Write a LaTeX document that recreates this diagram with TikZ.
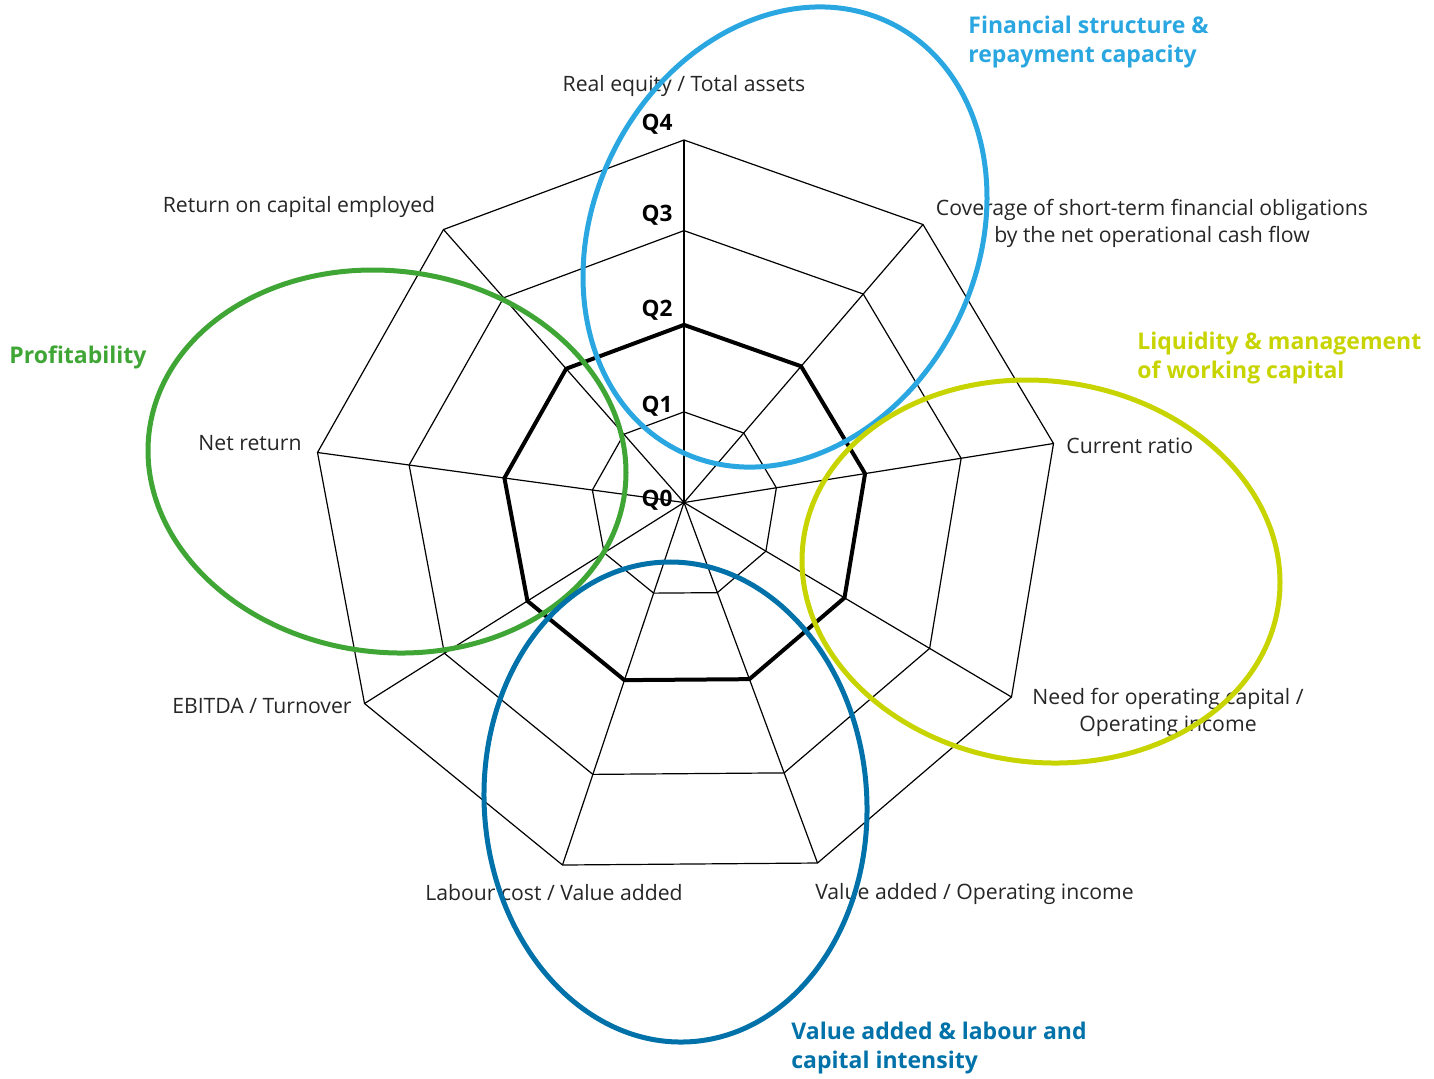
\documentclass[tikz,border=0pt]{standalone}
\usepackage{fontspec}
\setmainfont{Open Sans}
\usepackage{tikz}
\usetikzlibrary{calc}
\definecolor{finblue}{HTML}{2AA7E0}
\definecolor{profgreen}{HTML}{3FA535}
\definecolor{liqyellow}{HTML}{C8D400}
\definecolor{valblue}{HTML}{0072A9}
\definecolor{labelgray}{HTML}{262626}
\tikzset{
  gridline/.style = {draw=black, line width=0.6pt, line join=miter},
  scoreline/.style = {draw=black, line width=2pt, line join=miter},
  axislabel/.style = {font=\fontsize{10.6}{13.5}\selectfont, text=labelgray, align=center, inner sep=0pt},
  qlabel/.style = {font=\fontsize{11.3}{13}\selectfont\bfseries, anchor=east, inner sep=0pt},
  grouplabel/.style = {font=\fontsize{11.5}{14.4}\selectfont\bfseries, align=left, anchor=west, inner sep=0pt},
  groupring/.style = {line width=2.5pt}
}

\begin{document}
\begin{tikzpicture}[x=0.5pt, y=0.5pt]
    \useasboundingbox (0,-1078) rectangle (1434,0);
    \coordinate (O) at (684,-502.5);
    \coordinate (v0) at (684,-140);
    \coordinate (v1) at (923,-224.5);
    \coordinate (v2) at (1053.5,-443.5);
    \coordinate (v3) at (1011.5,-697);
    \coordinate (v4) at (817.5,-863);
    \coordinate (v5) at (562.5,-865);
    \coordinate (v6) at (364.5,-703.5);
    \coordinate (v7) at (317.5,-452.5);
    \coordinate (v8) at (443.5,-229.5);

    \foreach \i in {0,...,8}
        \draw[gridline] (O) -- (v\i);
    \foreach \f in {0.25,0.75,1}
        \draw[gridline] ($(O)!\f!(v0)$) \foreach \i in {1,...,8}{ -- ($(O)!\f!(v\i)$)} -- cycle;
    \draw[scoreline] ($(O)!0.49!(v0)$) \foreach \i in {1,...,8}{ -- ($(O)!0.49!(v\i)$)} -- cycle;

    \foreach \q/\y in {0/500,1/406,2/310,3/215,4/124}
        \node[qlabel] (q\q) at (673,-\y) {Q\q};

    \node[axislabel] (l0) at (684,-86) {Real equity / Total assets};
    \node[axislabel] (l1) at (1152,-223.5) {Coverage of short-term financial obligations\\by the net operational cash flow};
    \node[axislabel, anchor=west] (l2) at (1066,-446) {Current ratio};
    \node[axislabel] (l3) at (1168,-712) {Need for operating capital /\\Operating income};
    \node[axislabel] (l4) at (974.5,-894) {Value added / Operating income};
    \node[axislabel] (l5) at (554,-893) {Labour cost / Value added};
    \node[axislabel, anchor=east] (l6) at (352,-706) {EBITDA / Turnover};
    \node[axislabel, anchor=east] (l7) at (302,-443) {Net return};
    \node[axislabel] (l8) at (299,-207) {Return on capital employed};

    \draw[groupring, draw=finblue] (785,-237) ellipse [x radius=191.8, y radius=238.6, rotate=-26.5];
    \draw[groupring, draw=profgreen] (387,-461.5) ellipse [x radius=239.7, y radius=190.6, rotate=-7.3];
    \draw[groupring, draw=liqyellow] (1041,-571.5) ellipse [x radius=239.7, y radius=190.6, rotate=-7.3];
    \draw[groupring, draw=valblue] (675.5,-802) ellipse [x radius=191.3, y radius=240.2, rotate=3.6];

    \node[grouplabel, text=finblue] (gfin) at (968,-42) {Financial structure \&\\repayment capacity};
    \node[grouplabel, text=profgreen] (gprof) at (9,-357) {Profitability};
    \node[grouplabel, text=liqyellow] (gliq) at (1137,-358) {Liquidity \& management\\of working capital};
    \node[grouplabel, text=valblue] (gval) at (791,-1048) {Value added \& labour and\\capital intensity};
\end{tikzpicture}
\end{document}
